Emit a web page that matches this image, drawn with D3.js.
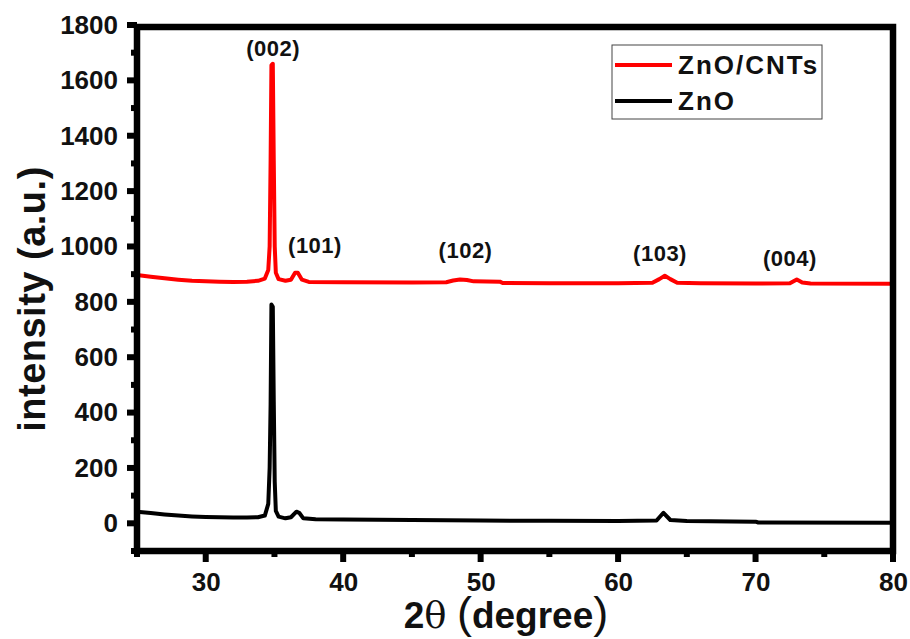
<!DOCTYPE html>
<html>
<head>
<meta charset="utf-8">
<script src="https://cdn.jsdelivr.net/npm/d3@7"></script>
<style>
  body { margin: 0; background: #fff; }
  text { font-family: "Liberation Sans", Arial, sans-serif; font-weight: bold; fill: #111; }
</style>
</head>
<body>
<div id="canvas"></div>
<script>
// XRD patterns: [2theta, intensity]
const zncnt = [
  [25, 897], [26, 891], [27, 885], [28, 880], [29, 876], [30, 874], [31, 873], [32, 872],
  [33, 873], [33.8, 876], [34.3, 884], [34.55, 915], [34.65, 1000], [34.72, 1310],
  [34.78, 1655], [34.88, 1660], [34.95, 1310], [35.02, 1000], [35.1, 905], [35.3, 882],
  [35.8, 876], [36.2, 880], [36.5, 905], [36.7, 905], [37.0, 880], [37.5, 872],
  [40, 871], [45, 870], [47.5, 871], [48.0, 877], [48.5, 881], [49, 879], [49.5, 874],
  [51.4, 873], [51.6, 868], [55, 867], [60, 867], [62.5, 869], [63, 882], [63.4, 894],
  [63.8, 882], [64.3, 869], [66, 867], [70, 866], [72.5, 867], [73.0, 881], [73.4, 870],
  [74, 866], [80, 865]
];
const zno = [
  [25, 42], [26, 37], [27, 32], [28, 28], [29, 25], [30, 23], [31, 22], [32, 21],
  [33, 21], [33.8, 22], [34.3, 28], [34.55, 70], [34.65, 200], [34.72, 430],
  [34.78, 790], [34.88, 782], [34.95, 440], [35.02, 150], [35.1, 45], [35.3, 24],
  [35.8, 18], [36.2, 22], [36.6, 42], [36.8, 38], [37.1, 18], [38, 15],
  [40, 14], [45, 12], [50, 10], [55, 9], [60, 8], [62.8, 10], [63.3, 38], [63.8, 12],
  [65, 8], [70, 6], [70.2, 3], [80, 2]
];
const peaks = ["(002)", "(101)", "(102)", "(103)", "(004)"];
const peakX = [34.9, 37.95, 48.9, 63.05, 72.5];
const peakY = [1688, 976, 958, 948, 929];
const xTicks = [30, 40, 50, 60, 70, 80];
const xMinorTicks = [25, 35, 45, 55, 65, 75];
const yTicks = [0, 200, 400, 600, 800, 1000, 1200, 1400, 1600, 1800];
const yMinorTicks = [-100, 100, 300, 500, 700, 900, 1100, 1300, 1500, 1700];
const seriesNames = ["ZnO/CNTs", "ZnO"];
const seriesColors = ["#ff0000", "#000000"];

const W = 910, H = 639;
const svg = d3.select("#canvas").append("svg")
  .attr("width", W).attr("height", H);

const x = d3.scaleLinear().domain([25, 80]).range([137, 893]);
const y = d3.scaleLinear().domain([-100, 1800]).range([551, 25]);

// curves
const line = d3.line().x(d => x(d[0])).y(d => y(d[1]));
[zncnt, zno].forEach((s, i) => {
  svg.append("path").datum(s)
    .attr("d", line)
    .attr("fill", "none")
    .attr("stroke", seriesColors[i])
    .attr("stroke-width", 4)
    .attr("stroke-linejoin", "round");
});

// tick marks, pointing out of the frame
const tk = svg.append("g").attr("stroke", "#000").attr("stroke-width", 6);
tk.selectAll(".xt").data(xTicks).enter().append("line")
  .attr("x1", d => x(d)).attr("x2", d => x(d)).attr("y1", 551).attr("y2", 562);
tk.selectAll(".xm").data(xMinorTicks).enter().append("line")
  .attr("x1", d => x(d)).attr("x2", d => x(d)).attr("y1", 551).attr("y2", 557);
tk.selectAll(".yt").data(yTicks).enter().append("line")
  .attr("y1", d => y(d)).attr("y2", d => y(d)).attr("x1", 137).attr("x2", 127);
tk.selectAll(".ym").data(yMinorTicks).enter().append("line")
  .attr("y1", d => y(d)).attr("y2", d => y(d)).attr("x1", 137).attr("x2", 131);

// tick labels through the axes
const xAxis = d3.axisBottom(x).tickValues(xTicks).tickSize(0).tickPadding(22).tickFormat(d3.format("d"));
const yAxis = d3.axisLeft(y).tickValues(yTicks).tickSize(0).tickPadding(19).tickFormat(d3.format("d"));
const gx = svg.append("g").attr("transform", "translate(0,551)").call(xAxis);
const gy = svg.append("g").attr("transform", "translate(137,0)").call(yAxis);
svg.selectAll(".domain").remove();
svg.selectAll(".tick text")
  .attr("font-size", 26)
  .style("font-family", "'Liberation Sans', Arial, sans-serif")
  .style("font-weight", "bold").attr("fill", "#111");

// frame
svg.append("rect")
  .attr("x", 137).attr("y", 27).attr("width", 756).attr("height", 524)
  .attr("fill", "none").attr("stroke", "#000").attr("stroke-width", 6.5);

// peak labels
svg.selectAll(".peak").data(peaks).enter().append("text")
  .attr("class", "peak")
  .attr("x", (d, i) => x(peakX[i]))
  .attr("y", (d, i) => y(peakY[i]))
  .attr("text-anchor", "middle")
  .attr("font-size", 22)
  .attr("letter-spacing", 0.5)
  .text(d => d);

// axis titles
const xt = svg.append("text")
  .attr("x", 506).attr("y", 628)
  .attr("text-anchor", "middle")
  .attr("font-size", 37);
xt.append("tspan").text("2");
xt.append("tspan").attr("font-family", "'DejaVu Serif', serif").attr("font-weight", "normal").text("θ");
xt.append("tspan").text(" ");
xt.append("tspan").attr("font-size", 45).attr("font-weight", "normal").text("(");
xt.append("tspan").text("degree");
xt.append("tspan").attr("font-size", 45).attr("font-weight", "normal").text(")");

svg.append("text")
  .attr("transform", "translate(45,299) rotate(-90)")
  .attr("text-anchor", "middle")
  .attr("font-size", 38)
  .attr("letter-spacing", 0.5)
  .text("intensity (a.u.)");

// legend
const lg = svg.append("g");
lg.append("rect")
  .attr("x", 612).attr("y", 45).attr("width", 210).attr("height", 74)
  .attr("fill", "#fff").attr("stroke", "#444").attr("stroke-width", 1);
seriesNames.forEach((n, i) => {
  const yy = 65 + i * 36;
  lg.append("line")
    .attr("x1", 615).attr("x2", 672).attr("y1", yy).attr("y2", yy)
    .attr("stroke", seriesColors[i]).attr("stroke-width", 4);
  lg.append("text")
    .attr("x", 678).attr("y", yy + 9)
    .attr("font-size", 26)
    .attr("letter-spacing", 2)
    .text(n);
});
</script>
</body>
</html>
